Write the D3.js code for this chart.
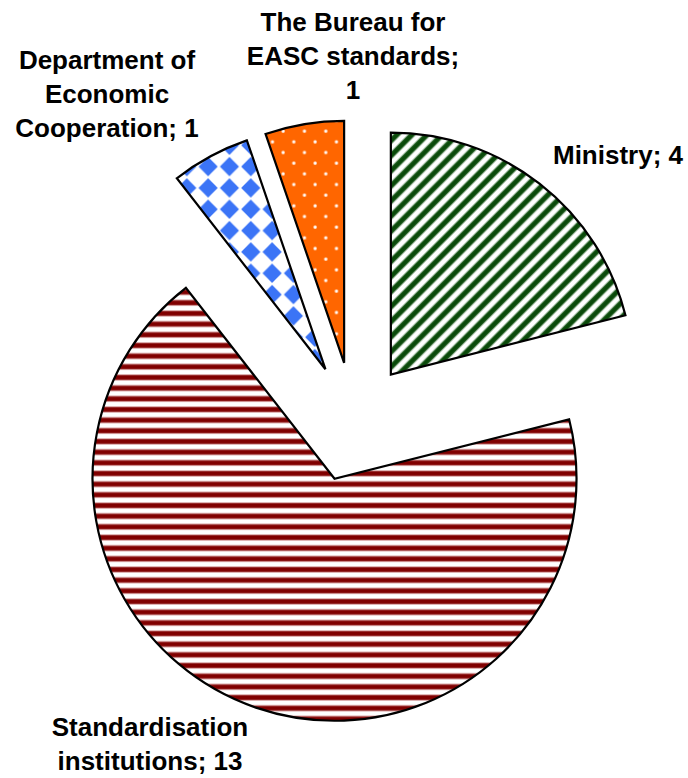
<!DOCTYPE html>
<html>
<head>
<meta charset="utf-8">
<script src="https://cdn.jsdelivr.net/npm/d3@7"></script>
<style>
html,body{margin:0;padding:0;background:#fff;}
svg{display:block;}
</style>
</head>
<body>
<svg id="chart" width="688" height="778"></svg>
<script>
// ---- data ----
const categories = ["Ministry", "Standardisation institutions", "Department of Economic Cooperation", "The Bureau for EASC standards"];
const values = [4, 13, 1, 1];
const labelLines = [
  ["Ministry; 4"],
  ["Standardisation", "institutions; 13"],
  ["Department of", "Economic", "Cooperation; 1"],
  ["The Bureau for", "EASC standards;", "1"]
];

// ---- layout ----
const W = 688, H = 778;
const cx = 354, cy = 422, R = 242, explode = 60;
const labelPos = [
  {x: 618, y: 164},
  {x: 150, y: 736},
  {x: 107, y: 69},
  {x: 353, y: 31}
];
const lineH = 34;
const patIds = ["pMinistry", "pStd", "pDept", "pBureau"];

const svg = d3.select("#chart");
const defs = svg.append("defs");

// Ministry: dark green diagonal stripes
const p1 = defs.append("pattern").attr("id", "pMinistry").attr("patternUnits", "userSpaceOnUse")
  .attr("width", 10.67).attr("height", 10.67).attr("patternTransform", "rotate(-45)");
p1.append("rect").attr("width", 10.67).attr("height", 10.67).attr("fill", "#fff");
p1.append("rect").attr("y", 2.3).attr("width", 10.67).attr("height", 6.1).attr("fill", "#7fa57f");
p1.append("rect").attr("y", 3.1).attr("width", 10.67).attr("height", 4.5).attr("fill", "#0a4a0a");

// Standardisation: dark red horizontal stripes
const p2 = defs.append("pattern").attr("id", "pStd").attr("patternUnits", "userSpaceOnUse")
  .attr("width", 10.67).attr("height", 10.67);
p2.append("rect").attr("width", 10.67).attr("height", 10.67).attr("fill", "#fff");
p2.append("rect").attr("y", 2.2).attr("width", 10.67).attr("height", 6.4).attr("fill", "#d49a9a");
p2.append("rect").attr("y", 3.2).attr("width", 10.67).attr("height", 4.4).attr("fill", "#800000");

// Department: blue diamond checker
const s = 21.33, h = s / 2, d = 9.6;
const p3 = defs.append("pattern").attr("id", "pDept").attr("patternUnits", "userSpaceOnUse")
  .attr("width", s).attr("height", s);
p3.append("rect").attr("width", s).attr("height", s).attr("fill", "#fff");
p3.append("polygon")
  .attr("points", [[h - d, h], [h, h - d], [h + d, h], [h, h + d]].map(p => p.join(",")).join(" "))
  .attr("fill", "#3b74f6");

// Bureau: orange with white dots
const p4 = defs.append("pattern").attr("id", "pBureau").attr("patternUnits", "userSpaceOnUse")
  .attr("width", s).attr("height", s);
p4.append("rect").attr("width", s).attr("height", s).attr("fill", "#ff6600");
[[0,0],[s,0],[0,s],[s,s],[h,h]].forEach(([x,y]) => {
  p4.append("circle").attr("cx", x + 3).attr("cy", y + 3).attr("r", 1.8).attr("fill", "#ffd9bf");
  p4.append("circle").attr("cx", x + 3).attr("cy", y + 3).attr("r", 1.1).attr("fill", "#fff");
});

// ---- pie ----
const pie = d3.pie().sort(null).value(v => v).startAngle(0).endAngle(2 * Math.PI);
const arcs = pie(values);
const arc = d3.arc().innerRadius(0).outerRadius(R);

const g = svg.append("g").attr("transform", `translate(${cx},${cy})`);
g.selectAll("path.slice").data(arcs).join("path")
  .attr("class", "slice")
  .attr("d", arc)
  .attr("transform", a => {
    const m = (a.startAngle + a.endAngle) / 2;
    return `translate(${explode * Math.sin(m)},${-explode * Math.cos(m)})`;
  })
  .attr("fill", (a, i) => `url(#${patIds[i]})`)
  .attr("stroke", "#000")
  .attr("stroke-width", 2.2)
  .attr("stroke-linejoin", "miter");

// ---- labels ----
const lg = svg.append("g")
  .attr("font-family", "'Liberation Sans', Arial, sans-serif")
  .attr("font-weight", "bold")
  .attr("font-size", 26)
  .attr("fill", "#000")
  .attr("text-anchor", "middle");
labelLines.forEach((lines, i) => {
  const t = lg.append("text").attr("x", labelPos[i].x).attr("y", labelPos[i].y);
  lines.forEach((ln, k) => {
    t.append("tspan").attr("x", labelPos[i].x).attr("y", labelPos[i].y + k * lineH).text(ln);
  });
});
</script>
</body>
</html>
